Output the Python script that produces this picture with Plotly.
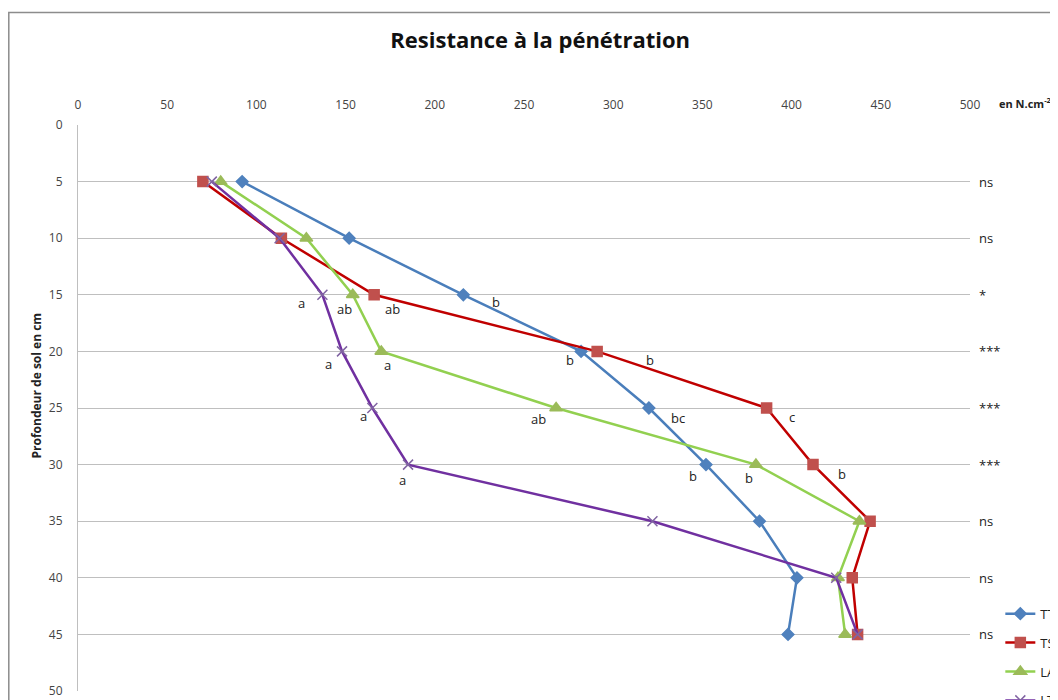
import plotly.graph_objects as go

depth = [5, 10, 15, 20, 25, 30, 35, 40, 45]
tts = [92, 152, 216, 282, 320, 352, 382, 403, 398]
ts = [70, 114, 166, 291, 386, 412, 444, 434, 437]
la = [80, 128, 154, 170, 268, 380, 438, 426, 430]
lt = [75, 113, 137, 148, 165, 185, 322, 425, 437]

letter_depth = [15, 20, 25, 30]
tts_letters = ["b", "b", "bc", "b"]
ts_letters = ["ab", "b", "c", "b"]
la_letters = ["ab", "a", "ab", "b"]
lt_letters = ["a", "a", "a", "a"]

signif_depth = [5, 10, 15, 20, 25, 30, 35, 40, 45]
signif = ["ns", "ns", "*", "***", "***", "***", "ns", "ns", "ns"]

x_ticks = list(range(0, 501, 50))
y_ticks = list(range(0, 51, 5))

series = [
    ("TTS", tts, "#4A7EBB", "#4F81BD", "diamond", 9, tts_letters,
     [(33, -7), (-11, -9), (29, -10), (-13, -11)]),
    ("TS", ts, "#C00000", "#C0504D", "square", 10, ts_letters,
     [(18, -14), (53, -9), (25, -9), (29, -9)]),
    ("LA", la, "#92D050", "#9BBB59", "triangle-up", 11, la_letters,
     [(-8, -14), (6, -14), (-18, -11), (-7, -13)]),
    ("LT", lt, "#7030A0", "#8064A2", "x-thin-open", 10, lt_letters,
     [(-21, -8), (-14, -13), (-9, -8), (-6, -15)]),
]

fig = go.Figure()
annotations = []
for name, vals, lcol, mcol, sym, msize, letters, offs in series:
    fig.add_trace(go.Scatter(
        x=vals, y=depth, mode="lines+markers", name=name,
        legendgroup=name,
        line=dict(color=lcol, width=2.5),
        marker=dict(symbol=sym, size=msize, color=mcol,
                    line=dict(color=mcol, width=1.5)),
    ))
    for d, txt, (dx, dy) in zip(letter_depth, letters, offs):
        xv = vals[depth.index(d)]
        annotations.append(dict(
            x=xv, y=d, xref="x", yref="y", text=txt, showarrow=False,
            xshift=dx, yshift=dy,
            font=dict(family="Open Sans", size=13, color="#222222"),
        ))

for d, s in zip(signif_depth, signif):
    annotations.append(dict(
        x=1.008, y=d, xref="paper", yref="y", text=s, showarrow=False,
        xanchor="left", yanchor="middle",
        font=dict(family="Open Sans", size=13, color="#222222"),
    ))

annotations.append(dict(
    x=1.03, y=0, xref="paper", yref="y", yshift=22,
    text="<b>en N.cm<sup>-2</sup></b>", showarrow=False,
    xanchor="left", yanchor="middle",
    font=dict(family="Open Sans", size=11, color="#222222"),
))
annotations.append(dict(
    x=-0.047, y=23, xref="paper", yref="y",
    text="<b>Profondeur de sol en cm</b>", showarrow=False, textangle=-90,
    xanchor="center", yanchor="middle",
    font=dict(family="Open Sans", size=12, color="#222222"),
))

L, T, PW, PH = 70, 117, 892, 566

fig.update_layout(
    width=1058, height=700,
    margin=dict(l=L, r=1058 - L - PW, t=T, b=700 - T - PH, autoexpand=False),
    paper_bgcolor="white", plot_bgcolor="white",
    title=dict(text="<b>Resistance à la pénétration</b>", x=0.503, xanchor="center",
               y=0.954, yanchor="middle",
               font=dict(family="Open Sans", size=22, color="#111111")),
    xaxis=dict(side="top", range=[0, 500], tickvals=x_ticks,
               showgrid=False, zeroline=False, showline=False,
               ticks="", ticklabelstandoff=13,
               tickfont=dict(family="Open Sans", size=12, color="#444444")),
    yaxis=dict(range=[50, 0], tickvals=y_ticks, showgrid=True,
               gridcolor="#BFBFBF", gridwidth=1, zeroline=False,
               showline=True, linecolor="#BFBFBF", linewidth=1,
               ticks="", ticklabelstandoff=12,
               tickfont=dict(family="Open Sans", size=12, color="#444444")),
    legend=dict(x=1.034, y=0.163, xanchor="left", yanchor="top",
                tracegroupgap=9, bgcolor="rgba(0,0,0,0)",
                font=dict(family="Open Sans", size=13, color="#222222")),
    annotations=annotations,
    showlegend=True,
    shapes=[dict(type="rect", xref="paper", yref="paper",
                 x0=(0.8 - L) / PW, x1=1.2,
                 y0=-0.1, y1=1 + (T - 4.5) / PH,
                 line=dict(color="#8C8C8C", width=1.5))],
)

fig.write_html("out.html")
